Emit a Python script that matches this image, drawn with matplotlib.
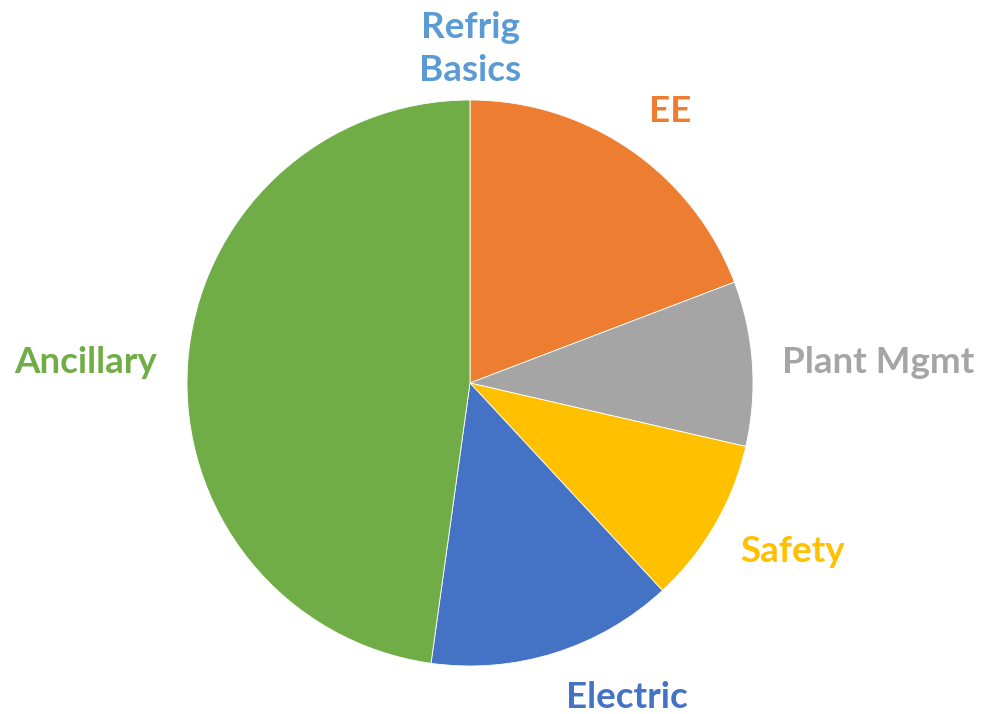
import matplotlib
matplotlib.use("Agg")
import matplotlib.pyplot as plt

# Share of training topics (percent)
categories = ["Refrig\nBasics", "EE", "Plant Mgmt", "Safety", "Electric", "Ancillary"]
values = [0.0, 19.2, 9.4, 9.5, 14.1, 47.8]
colors = ["#5B9BD5", "#ED7D31", "#A5A5A5", "#FFC000", "#4472C4", "#70AD47"]

# Label anchor points in axes data units (pie radius = 1)
label_pos = [(0.0, 1.18), (0.707, 0.958), (1.442, 0.074),
             (1.138, -0.597), (0.555, -1.110), (-1.360, 0.074)]

W, H = 983, 714
fig = plt.figure(figsize=(W / 100, H / 100), dpi=100)
cx, cy, r = 470, 383, 283
ax = fig.add_axes([(cx - r) / W, (H - cy - r) / H, 2 * r / W, 2 * r / H])

ax.pie(values, colors=colors, startangle=90, counterclock=False, radius=1.0,
       wedgeprops=dict(edgecolor="white", linewidth=0.6))
ax.set_xlim(-1, 1)
ax.set_ylim(-1, 1)
ax.set_aspect("equal")
ax.axis("off")

for name, col, (x, y) in zip(categories, colors, label_pos):
    ax.text(x, y, name, color=col, ha="center", va="center",
            fontsize=26.5, fontweight="bold", family=["Lato", "DejaVu Sans"],
            linespacing=1.4, clip_on=False)

fig.savefig("out.png", dpi=100, facecolor="white")
